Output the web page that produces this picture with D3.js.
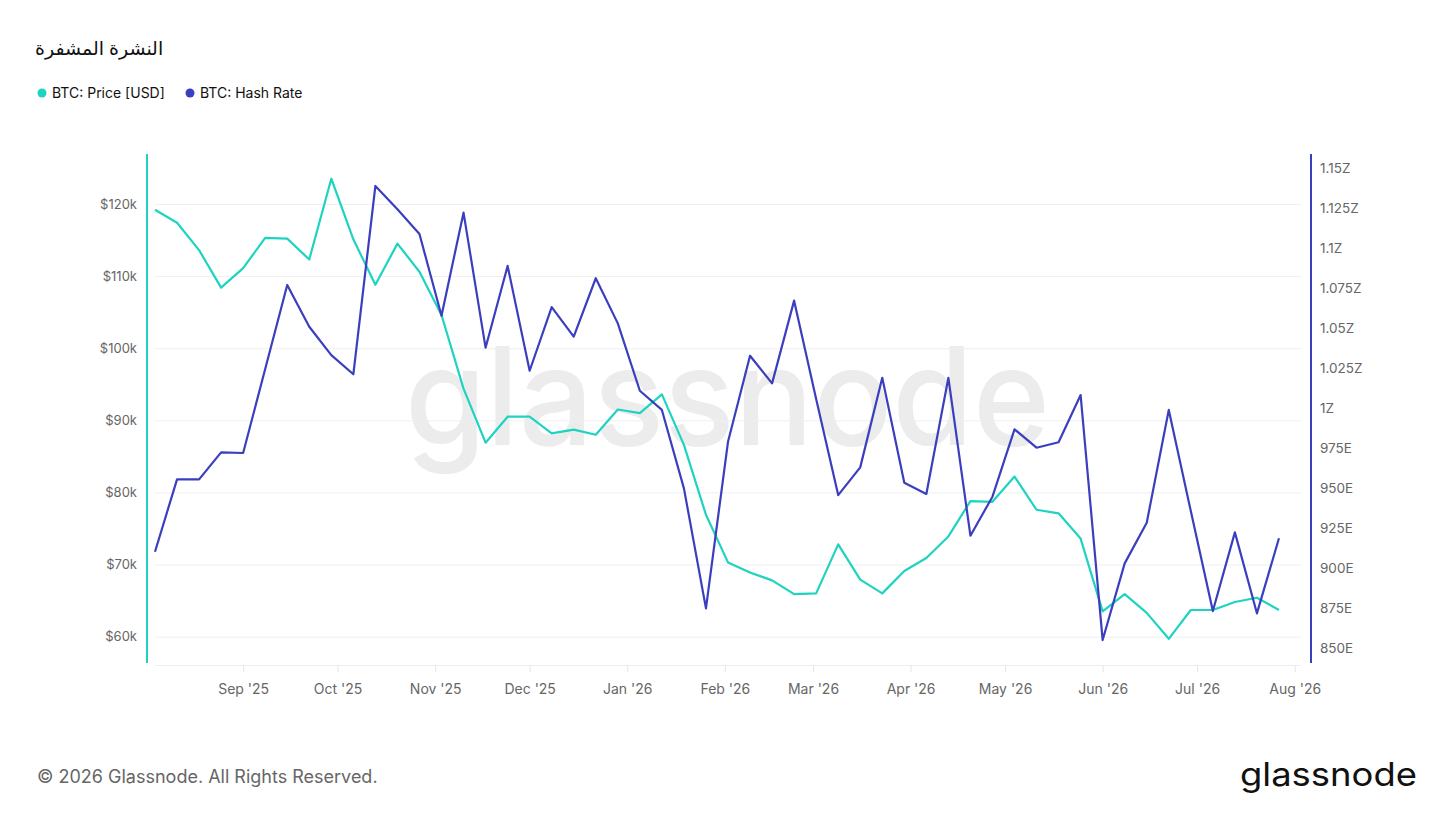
<!DOCTYPE html>
<html>
<head>
<meta charset="utf-8">
<script src="https://cdn.jsdelivr.net/npm/d3@7"></script>
<style>
  html, body { margin: 0; padding: 0; background: #fff; }
  svg { display: block; font-family: Inter, "Noto Sans", sans-serif; }
</style>
</head>
<body>
<svg id="chart" width="1456" height="819"></svg>
<script>
// weekly samples (Mondays)
const dates = [
  '2025-08-04','2025-08-11','2025-08-18','2025-08-25','2025-09-01','2025-09-08','2025-09-15',
  '2025-09-22','2025-09-29','2025-10-06','2025-10-13','2025-10-20','2025-10-27','2025-11-03',
  '2025-11-10','2025-11-17','2025-11-24','2025-12-01','2025-12-08','2025-12-15','2025-12-22',
  '2025-12-29','2026-01-05','2026-01-12','2026-01-19','2026-01-26','2026-02-02','2026-02-09',
  '2026-02-16','2026-02-23','2026-03-02','2026-03-09','2026-03-16','2026-03-23','2026-03-30',
  '2026-04-06','2026-04-13','2026-04-20','2026-04-27','2026-05-04','2026-05-11','2026-05-18',
  '2026-05-25','2026-06-01','2026-06-08','2026-06-15','2026-06-22','2026-06-29','2026-07-06',
  '2026-07-13','2026-07-20','2026-07-27'
];

// BTC price, thousands of USD
const priceK = [
  119.2, 117.4, 113.6, 108.4, 111.1, 115.3, 115.2, 112.3, 123.5, 115.1, 108.8, 114.5, 110.6,
  104.6, 94.4, 86.9, 90.5, 90.5, 88.2, 88.7, 88.0, 91.5, 91.0, 93.6, 86.6, 76.9,
  70.3, 68.9, 67.8, 65.9, 66.0, 72.8, 67.9, 66.0, 69.1, 70.9, 73.9, 78.8, 78.7,
  82.2, 77.6, 77.1, 73.6, 63.5, 65.9, 63.3, 59.7, 63.7, 63.7, 64.8, 65.4, 63.7
];

// hash rate, in E (1000E = 1Z)
const hashE = [
  910.2, 955.4, 955.4, 972.3, 971.9, 1024.4, 1076.9, 1050.8, 1033.1, 1021.1, 1138.8, 1124.2, 1108.8,
  1057.7, 1122.1, 1037.7, 1088.8, 1023.3, 1063.1, 1044.6, 1081.1, 1052.9, 1010.8, 998.8, 949.8, 874.8,
  978.9, 1032.7, 1015.4, 1067.1, 1005.6, 945.6, 962.9, 1018.9, 953.3, 946.3, 1018.9, 920.2, 944.6,
  986.7, 975.2, 978.6, 1008.1, 855.0, 902.9, 928.3, 998.8, 935.6, 873.1, 922.3, 871.7, 918.6
];

const priceTicks = [60, 70, 80, 90, 100, 110, 120];
const hashTicks = [850, 875, 900, 925, 950, 975, 1000, 1025, 1050, 1075, 1100, 1125, 1150];
const monthTicks = ['2025-09-01','2025-10-01','2025-11-01','2025-12-01','2026-01-01','2026-02-01',
  '2026-03-01','2026-04-01','2026-05-01','2026-06-01','2026-07-01','2026-08-01'];

(function () {
  'use strict';

  const TEAL = '#1fd3c1';
  const BLUE = '#3b3fbe';
  const MUTED = '#666';

  const parse = d3.utcParse('%Y-%m-%d');
  const points = dates.map((d, i) => ({ date: parse(d), price: priceK[i], hash: hashE[i] }));

  const svg = d3.select('#chart');
  const plotTop = 154, plotBottom = 665, plotLeft = 155, plotRight = 1301;

  const x = d3.scaleUtc()
    .domain([parse('2025-08-04'), parse('2026-08-03')])
    .range([plotLeft, plotRight]);
  const yL = d3.scaleLinear().domain([56.07, 126.93]).range([plotBottom, plotTop]);
  const yR = d3.scaleLinear().domain([839.4, 1158.75]).range([plotBottom, plotTop]);

  // ── Title + legend ───────────────────────────────────────────────────────
  svg.append('text')
    .attr('x', 35).attr('y', 55)
    .attr('font-family', '"Noto Sans", "DejaVu Sans", sans-serif')
    .attr('font-size', 19).attr('fill', '#111')
    .text('النشرة المشفرة');

  const legend = [
    { label: 'BTC: Price [USD]', color: TEAL, x: 42 },
    { label: 'BTC: Hash Rate', color: BLUE, x: 190 }
  ];
  legend.forEach(l => {
    svg.append('circle').attr('cx', l.x).attr('cy', 93).attr('r', 4.5).attr('fill', l.color);
    svg.append('text').attr('x', l.x + 10).attr('y', 98)
      .attr('font-size', 14).attr('fill', '#111').text(l.label);
  });

  // ── Watermark ────────────────────────────────────────────────────────────
  svg.append('text')
    .attr('x', 405).attr('y', 445)
    .attr('font-size', 136).attr('font-weight', 500)
    .attr('fill', '#ececec')
    .attr('textLength', 645).attr('lengthAdjust', 'spacingAndGlyphs')
    .text('glassnode');

  // ── Grid + axes ──────────────────────────────────────────────────────────
  svg.append('g')
    .attr('transform', `translate(${plotLeft},0)`)
    .call(d3.axisLeft(yL).tickValues(priceTicks).tickSize(-(plotRight - plotLeft)).tickFormat(''))
    .call(ax => ax.select('.domain').remove())
    .call(ax => ax.selectAll('.tick line').attr('stroke', '#efefef').attr('stroke-width', 1));

  svg.append('g')
    .attr('transform', 'translate(147,0)')
    .call(d3.axisLeft(yL).tickValues(priceTicks).tickSize(0).tickPadding(10)
      .tickFormat(v => `$${v}k`))
    .call(ax => ax.select('.domain').remove())
    .call(ax => ax.selectAll('text').attr('fill', MUTED).attr('font-size', 13)
      .attr('font-family', 'Inter, sans-serif'));

  svg.append('g')
    .attr('transform', 'translate(1311,0)')
    .call(d3.axisRight(yR).tickValues(hashTicks).tickSize(0).tickPadding(9)
      .tickFormat(v => v >= 1000 ? `${v / 1000}Z` : `${v}E`))
    .call(ax => ax.select('.domain').remove())
    .call(ax => ax.selectAll('text').attr('fill', MUTED).attr('font-size', 13.5)
      .attr('font-family', 'Inter, sans-serif'));

  svg.append('line').attr('x1', 147).attr('x2', 147).attr('y1', plotTop).attr('y2', plotBottom - 2)
    .attr('stroke', TEAL).attr('stroke-width', 2);
  svg.append('line').attr('x1', 1311).attr('x2', 1311).attr('y1', plotTop).attr('y2', plotBottom - 2)
    .attr('stroke', BLUE).attr('stroke-width', 2);

  svg.append('g')
    .attr('transform', `translate(0,${plotBottom})`)
    .call(d3.axisBottom(x).tickValues(monthTicks.map(parse)).tickSize(7).tickPadding(12)
      .tickFormat(d3.utcFormat("%b '%y")))
    .call(ax => ax.select('.domain').attr('stroke', '#eeeeee').attr('d', `M${plotLeft},0.5H${plotRight}`))
    .call(ax => ax.selectAll('.tick line').attr('stroke', '#e6e6e6'))
    .call(ax => ax.selectAll('text').attr('fill', MUTED).attr('font-size', 14)
      .attr('font-family', 'Inter, sans-serif'));

  // ── Lines ────────────────────────────────────────────────────────────────
  const priceLine = d3.line().x(p => x(p.date)).y(p => yL(p.price));
  const hashLine = d3.line().x(p => x(p.date)).y(p => yR(p.hash));

  svg.append('path').datum(points)
    .attr('d', priceLine).attr('fill', 'none')
    .attr('stroke', TEAL).attr('stroke-width', 2.2).attr('stroke-linejoin', 'round');

  svg.append('path').datum(points)
    .attr('d', hashLine).attr('fill', 'none')
    .attr('stroke', BLUE).attr('stroke-width', 2.2).attr('stroke-linejoin', 'round');

  // ── Footer ───────────────────────────────────────────────────────────────
  svg.append('text').attr('x', 37).attr('y', 783)
    .attr('font-size', 18).attr('fill', '#666')
    .text('© 2026 Glassnode. All Rights Reserved.');

  svg.append('text').attr('x', 1240).attr('y', 786)
    .attr('font-size', 33).attr('font-weight', 400).attr('fill', '#111')
    .attr('textLength', 177).attr('lengthAdjust', 'spacingAndGlyphs')
    .text('glassnode');
})();
</script>
</body>
</html>
